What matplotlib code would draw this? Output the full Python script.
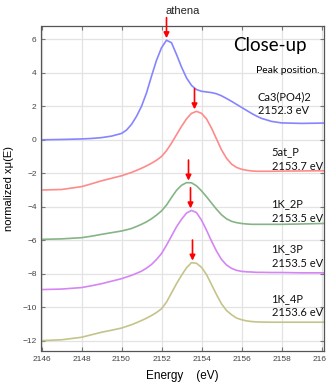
import matplotlib
matplotlib.use("Agg")
import matplotlib.pyplot as plt
import numpy as np

# energy grid [eV]
energy = [2146, 2147, 2148, 2148.5, 2149, 2149.5,
          2150, 2150.25, 2150.5, 2150.75, 2151, 2151.25, 2151.5, 2151.75,
          2152, 2152.25, 2152.5, 2152.75, 2153, 2153.25, 2153.5, 2153.75,
          2154, 2154.25, 2154.5, 2154.75, 2155, 2155.25, 2155.5, 2155.75,
          2156, 2156.25, 2156.5, 2156.75, 2157,
          2157.5, 2158, 2159, 2160.1]

# normalized xmu(E), offset spectra
ca3po4 = [0.0, 0.02, 0.05, 0.08, 0.13, 0.22,
          0.38, 0.58, 0.92, 1.4, 2.0, 2.8, 3.8, 4.75,
          5.5, 5.95, 5.8, 5.1, 4.35, 3.7, 3.25, 3.0,
          2.9, 2.86, 2.82, 2.75, 2.63, 2.47, 2.3, 2.12,
          1.94, 1.76, 1.58, 1.42, 1.28,
          1.1, 1.01, 0.98, 1.0]
at5_p = [-3.0, -2.97, -2.8, -2.63, -2.45, -2.3,
         -2.15, -2.05, -1.95, -1.83, -1.7, -1.56, -1.4, -1.22,
         -1.0, -0.65, -0.2, 0.3, 0.8, 1.25, 1.58, 1.7,
         1.58, 1.25, 0.7, 0.05, -0.6, -1.1, -1.45, -1.65,
         -1.76, -1.82, -1.86, -1.88, -1.88,
         -1.88, -1.87, -1.86, -1.85]
k1_2p = [-5.95, -5.92, -5.85, -5.76, -5.65, -5.55,
         -5.45, -5.38, -5.3, -5.18, -5.05, -4.9, -4.72, -4.5,
         -4.25, -3.9, -3.45, -3.02, -2.72, -2.56, -2.57, -2.75,
         -3.05, -3.4, -3.78, -4.15, -4.48, -4.72, -4.87, -4.95,
         -5.0, -5.03, -5.05, -5.05, -5.05,
         -5.05, -5.05, -5.03, -5.0]
k1_3p = [-8.95, -8.92, -8.83, -8.72, -8.6, -8.45,
         -8.3, -8.2, -8.1, -7.98, -7.85, -7.67, -7.45, -7.15,
         -6.8, -6.3, -5.75, -5.2, -4.75, -4.38, -4.22, -4.35,
         -4.8, -5.4, -6.05, -6.65, -7.15, -7.48, -7.68, -7.8,
         -7.86, -7.89, -7.9, -7.92, -7.92,
         -7.93, -7.93, -7.95, -7.95]
k1_4p = [-12.0, -11.95, -11.8, -11.65, -11.5, -11.38,
         -11.25, -11.15, -11.05, -10.93, -10.8, -10.66, -10.5, -10.32,
         -10.1, -9.7, -9.15, -8.6, -8.1, -7.65, -7.34, -7.38,
         -7.62, -8.05, -8.65, -9.25, -9.8, -10.2, -10.45, -10.65,
         -10.75, -10.82, -10.86, -10.88, -10.89,
         -10.9, -10.9, -10.9, -10.9]

names = ["Ca3(PO4)2", "5at_P", "1K_2P", "1K_3P", "1K_4P"]
peak_labels = ["2152.3 eV", "2153.7 eV", "2153.5 eV", "2153.5 eV", "2153.6 eV"]
arrow_x = [2152.25, 2153.65, 2153.35, 2153.45, 2153.55]
series = [ca3po4, at5_p, k1_2p, k1_3p, k1_4p]
colors = ["#8585ff", "#ff8a8a", "#86b486", "#d585f5", "#c4c48a"]

# label anchor (left x, center y) in data units
label_pos = [(2156.8, 2.15), (2157.5, -1.15), (2157.5, -4.25), (2157.5, -6.95), (2157.5, -9.9)]

fig = plt.figure(figsize=(3.26, 3.83), dpi=100)
ax = fig.add_axes([41.5 / 326, 1 - 351 / 383, (323.5 - 41.5) / 326, (351 - 26) / 383])

for y, c in zip(series, colors):
    ax.plot(energy, y, color=c, lw=1.2, solid_joinstyle="round")

# red arrows at peak positions
for x, y in zip(arrow_x, series):
    top = max(y)
    ax.annotate("", xy=(x, top + 0.12), xytext=(x, top + 1.35),
                arrowprops=dict(arrowstyle="-|>", color="red", lw=1.2,
                                mutation_scale=8, shrinkA=0, shrinkB=0),
                annotation_clip=False)

for (lx, ly), n, p in zip(label_pos, names, peak_labels):
    ax.text(lx, ly, n + "\n" + p, fontsize=8, family="Lato", ha="left", va="center",
            linespacing=1.35, color="#111111")

ax.text(2155.6, 5.66, "Close-up", fontsize=13.5, family="Lato", ha="left", va="center")
ax.text(2156.7, 4.17, "Peak position.", fontsize=7.5, family="Lato", ha="left", va="center")
fig.text(183 / 326, 1 - 11 / 383, "athena", fontsize=8, ha="center", va="center",
         family="Liberation Sans", color="#222222")

ax.set_xlim(2146, 2160.1)
ax.set_ylim(-12.62, 6.8)
ax.set_xticks(np.arange(2146, 2161, 2))
ax.set_yticks(np.arange(-12, 7, 2))
ax.grid(True, color="#e3e3e3", lw=0.9)
ax.set_axisbelow(True)
ax.tick_params(direction="in", top=True, right=True, length=3, width=0.8,
               colors="#777777", labelcolor="#444444", labelsize=6)
for lab in ax.get_xticklabels() + ax.get_yticklabels():
    lab.set_family("Liberation Sans")
for s in ax.spines.values():
    s.set_color("#555555")
    s.set_linewidth(0.9)

ax.set_xlabel("Energy    (eV)", fontsize=8.5, family="Liberation Sans", labelpad=5)
ax.set_ylabel("normalized xμ(E)", fontsize=8, family="Liberation Sans", labelpad=6)

fig.savefig("out.png", dpi=100)
